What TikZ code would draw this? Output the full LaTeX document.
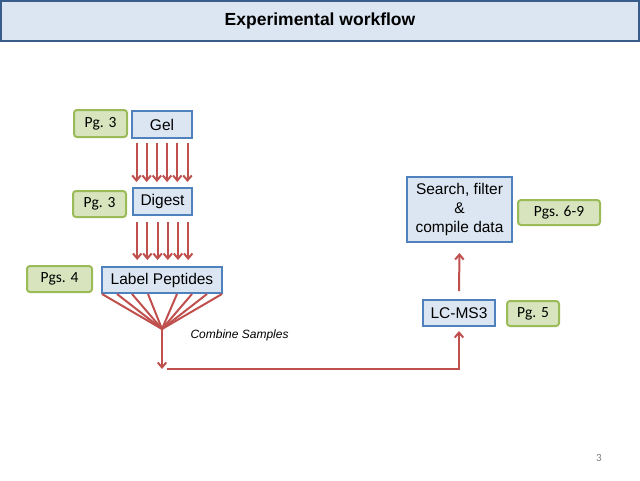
\documentclass[tikz,border=0pt]{standalone}
\usepackage{fontspec}
\setmainfont{Liberation Sans}
\newfontfamily\calibri{Carlito}
\usetikzlibrary{shapes.geometric,arrows.meta,positioning,calc}
\definecolor{boxblue}{HTML}{4F81BD}
\definecolor{boxfill}{HTML}{DCE6F2}
\definecolor{titleline}{HTML}{385D8A}
\definecolor{pgline}{HTML}{9BBB59}
\definecolor{pgfill}{HTML}{D7E4BD}
\definecolor{flowred}{HTML}{C0504D}
\begin{document}
\begin{tikzpicture}[x=1pt, y=-1pt]
	\tikzstyle{stepbox} = [rectangle, draw=boxblue, fill=boxfill, line width=2pt, inner sep=0pt,
	align=center, font=\fontsize{15.5}{19}\selectfont]
	\tikzstyle{pagebox} = [rectangle, rounded corners=3pt, draw=pgline, fill=pgfill, line width=2pt,
	inner sep=0pt, font=\calibri\fontsize{15.5}{18}\selectfont]
	\tikzstyle{flowline} = [draw=flowred, line width=2pt]
	\tikzstyle{flow} = [flowline, -{Straight Barb[length=5pt,width=8.5pt]}]
	\useasboundingbox (0,0) rectangle (640,480);
	% title
	\node (title) at (320,21) [rectangle, draw=titleline, fill=boxfill, line width=2pt,
		minimum width=638pt, minimum height=40pt, font=\bfseries\fontsize{17.5}{21}\selectfont]
		{Experimental workflow};
	% sample preparation
	\node (gel) at (162,124.5) [stepbox, minimum width=60pt, minimum height=27pt] {Gel};
	\node (gel_pg) at ($(gel.west)+(-30.5,-1)$) [pagebox, minimum width=53pt, minimum height=27pt] {Pg. 3};
	\node (digest) at (162.5,201.5) [stepbox, minimum width=59pt, minimum height=27pt] {Digest};
	\node (digest_pg) at ($(digest.west)+(-32.5,2.5)$) [pagebox, minimum width=53pt, minimum height=26pt] {Pg. 3};
	\node (label) at (162,280) [stepbox, minimum width=120pt, minimum height=26pt] {Label Peptides};
	\node (label_pg) at ($(label.west)+(-41.5,-1)$) [pagebox, minimum width=65pt, minimum height=26pt] {Pgs. 4};
	\foreach \i in {0,...,5} {
		\draw[flow] ($(gel.south)+(-25.5+10.2*\i,4)$) -- ($(gel.south |- digest.north)+(-25.5+10.2*\i,-5)$);
		\draw[flow] ($(digest.south)+(-25.3+10.2*\i,6)$) -- ($(digest.south |- label.north)+(-25.3+10.2*\i,-6)$);
	}
	% combine
	\coordinate (hub) at ($(label.south)+(0,35)$);
	\coordinate (combine) at ($(hub)+(0,40)$);
	\foreach \dx in {-60,-45,-30,-14,15,30,45,60}
		\draw[flowline] ($(label.south)+(\dx,0)$) -- (hub);
	\draw[flow] (hub) -- (combine);
	\node (combine_lbl) at ($(hub)+(25,6.5)$) [anchor=west, font=\itshape\fontsize{12}{14}\selectfont] {Combine Samples};
	% analysis
	\node (lcms) at (459,313) [stepbox, minimum width=72pt, minimum height=26pt] {LC-MS3};
	\node (lcms_pg) at ($(lcms.east)+(37,0.5)$) [pagebox, minimum width=52pt, minimum height=25pt] {Pg. 5};
	\node (search) at (459.5,209.5) [stepbox, minimum width=105pt, minimum height=65pt]
		{Search, filter\\\&\\compile data};
	\node (search_pg) at ($(search.east)+(46,3)$) [pagebox, minimum width=82pt, minimum height=25pt] {Pgs. 6-9};
	\draw[flow] ($(combine)+(5,0)$) -| ($(lcms.south)+(0,4)$);
	\draw[flow] ($(lcms.north)+(0,-8)$) -- ($(search.south)+(0,10)$);
	% slide number
	\node (slide_no) at (599,458) [text=gray, font=\calibri\fontsize{11}{13}\selectfont] {3};
\end{tikzpicture}
\end{document}
